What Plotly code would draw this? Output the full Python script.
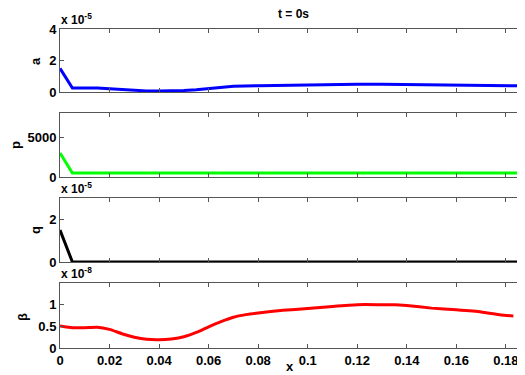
import plotly.graph_objects as go

# ---- data ----
x_a = [0, 0.005, 0.01, 0.015, 0.02, 0.025, 0.03, 0.035, 0.04, 0.045, 0.05, 0.055, 0.06,
       0.065, 0.07, 0.08, 0.09, 0.10, 0.11, 0.12, 0.13, 0.14, 0.15, 0.16, 0.17, 0.18, 0.19]
a_vals = [1.5e-5, 0.25e-5, 0.25e-5, 0.25e-5, 0.2e-5, 0.15e-5, 0.1e-5, 0.07e-5, 0.06e-5, 0.07e-5,
          0.1e-5, 0.15e-5, 0.22e-5, 0.3e-5, 0.36e-5, 0.4e-5, 0.43e-5, 0.46e-5, 0.49e-5, 0.5e-5,
          0.5e-5, 0.48e-5, 0.45e-5, 0.43e-5, 0.41e-5, 0.39e-5, 0.38e-5]

x_p = [0, 0.005, 0.19]
p_vals = [3000, 500, 500]

x_q = [0, 0.005, 0.19]
q_vals = [1.5e-5, 0, 0]

x_b = [0, 0.005, 0.01, 0.015, 0.02, 0.025, 0.03, 0.035, 0.04, 0.045, 0.05, 0.055, 0.06, 0.065,
       0.07, 0.075, 0.08, 0.09, 0.1, 0.11, 0.12, 0.13, 0.135, 0.14, 0.15, 0.16, 0.17, 0.178, 0.183]
b_vals = [0.51e-8, 0.47e-8, 0.47e-8, 0.48e-8, 0.43e-8, 0.33e-8, 0.25e-8, 0.2e-8, 0.19e-8, 0.21e-8,
          0.26e-8, 0.36e-8, 0.49e-8, 0.61e-8, 0.71e-8, 0.77e-8, 0.81e-8, 0.87e-8, 0.91e-8, 0.96e-8,
          1.0e-8, 1.0e-8, 1.0e-8, 0.98e-8, 0.92e-8, 0.88e-8, 0.83e-8, 0.76e-8, 0.74e-8]

x_ticks = [0, 0.02, 0.04, 0.06, 0.08, 0.1, 0.12, 0.14, 0.16, 0.18]
x_ticklabels = ["0", "0.02", "0.04", "0.06", "0.08", "0.1", "0.12", "0.14", "0.16", "0.18"]

a_ticks = [0, 2e-5, 4e-5]; a_labels = ["0", "2", "4"]
p_ticks = [0, 5000]; p_labels = ["0", "5000"]
q_ticks = [0, 2e-5]; q_labels = ["0", "2"]
b_ticks = [0, 0.5e-8, 1e-8]; b_labels = ["0", "0.5", "1"]

# page has an 8px body margin: figure occupies screen px 8..525 x 8..375
OFF = 8
W, H = 525 - OFF, 375 - OFF
L = 60 - OFF
PW = W - L
FONT = "Liberation Sans, Arial, sans-serif"

fig = go.Figure()
fig.add_trace(go.Scatter(x=x_a, y=a_vals, mode="lines", line=dict(color="#0000ff", width=3), xaxis="x", yaxis="y"))
fig.add_trace(go.Scatter(x=x_p, y=p_vals, mode="lines", line=dict(color="#00ff00", width=3), xaxis="x2", yaxis="y2"))
fig.add_trace(go.Scatter(x=x_q, y=q_vals, mode="lines", line=dict(color="#000000", width=3), xaxis="x3", yaxis="y3"))
fig.add_trace(go.Scatter(x=x_b, y=b_vals, mode="lines", line=dict(color="#ff0000", width=3, shape="spline", smoothing=0.5), xaxis="x4", yaxis="y4"))

def dom(top, bot):
    return [1 - (bot - OFF) / H, 1 - (top - OFF) / H]

panels = [(29, 92, [0, 4e-5], a_ticks, a_labels),
          (113, 177, [0, 8000], p_ticks, p_labels),
          (198, 262, [0, 3e-5], q_ticks, q_labels),
          (283, 348, [0, 1.5e-8], b_ticks, b_labels)]

axcommon = dict(showline=True, linecolor="#555555", linewidth=1, mirror="ticks",
                ticks="inside", ticklen=4, tickcolor="#555555", showgrid=False,
                zeroline=False, automargin=False)

layout = dict(width=W, height=H, margin=dict(l=L, r=0, t=0, b=0, pad=0),
              paper_bgcolor="white", plot_bgcolor="white", showlegend=False,
              font=dict(family=FONT, color="black", size=13))

for i, (top, bot, yr, tv, tl) in enumerate(panels):
    n = "" if i == 0 else str(i + 1)
    last = i == 3
    layout["xaxis" + n] = dict(axcommon, domain=[0, 1], range=[0, 0.1877],
                               tickvals=x_ticks,
                               ticktext=["<b>%s</b>" % t for t in x_ticklabels],
                               showticklabels=last, anchor="y" + n,
                               tickfont=dict(size=13, family=FONT))
    layout["yaxis" + n] = dict(axcommon, domain=dom(top, bot), range=yr,
                               tickvals=tv, ticktext=["<b>%s</b>" % t for t in tl],
                               anchor="x" + n, tickfont=dict(size=13, family=FONT))

fig.update_layout(**layout)

ann = []
def px(xs, ys, text, size=13, angle=0, xanchor="center"):
    ann.append(dict(x=(xs - 60) / PW, y=1 - (ys - OFF) / H, xref="paper", yref="paper", text=text,
                    showarrow=False, textangle=angle, xanchor=xanchor, yanchor="middle",
                    font=dict(size=size, family=FONT, color="black")))

px(293, 14, "<b>t = 0s</b>", 12)
px(59, 19, "<b>x 10<sup>-5</sup></b>", 12, xanchor="left")
px(59, 188, "<b>x 10<sup>-5</sup></b>", 12, xanchor="left")
px(59, 273, "<b>x 10<sup>-8</sup></b>", 12, xanchor="left")
px(35, 61, "<b>a</b>", 13, -90)
px(15, 145, "<b>p</b>", 13, -90)
px(35, 230, "<b>q</b>", 13, -90)
px(22, 317, "<b>β</b>", 13, -90)
px(290, 366, "<b>x</b>", 13)

fig.update_layout(annotations=ann)
fig.write_html("out.html")
